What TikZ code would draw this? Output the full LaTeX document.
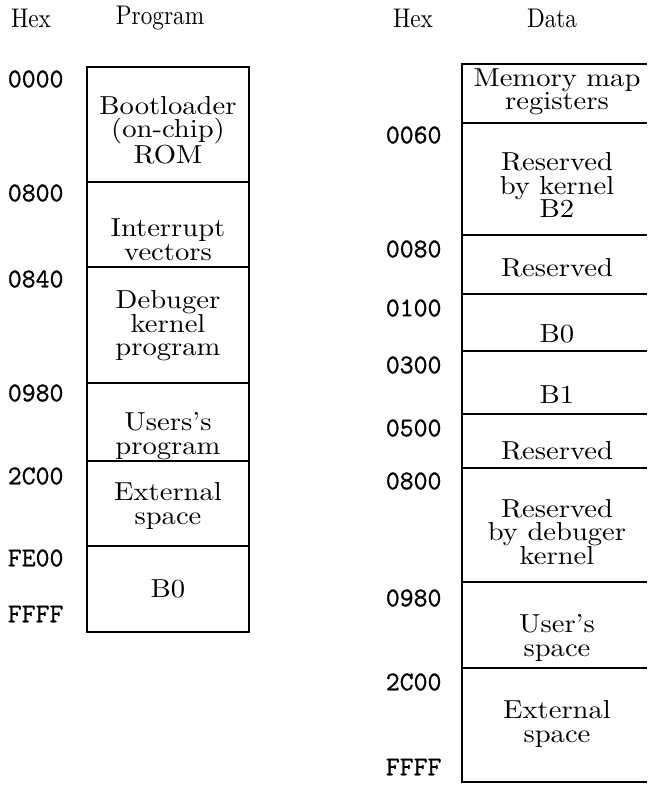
\documentclass[tikz,border=0pt]{standalone}
\usepackage{fontspec}
\setmainfont{lmroman10-regular}[Extension=.otf,FakeStretch=1.1]
\newfontfamily\headfont{lmroman10-regular}[Extension=.otf,FakeStretch=0.86]
\newfontfamily\addrfont{Latin Modern Mono}[FakeBold=1]
\usepackage{tikz}
\usetikzlibrary{positioning}

\tikzset{
  head/.style={font=\headfont\fontsize{27}{27}\selectfont},
  addr/.style={anchor=east,font=\addrfont\fontsize{27}{27}\selectfont},
  area/.style={align=center,font=\fontsize{26}{23.5}\selectfont},
  mapline/.style={line width=1.3pt},
}

\begin{document}
\begin{tikzpicture}[x=1pt,y=-1pt]
  \useasboundingbox (0,0) rectangle (647,786);

  % Programmspeicher
  \node[head] (hexp) at (31,18) {Hex};
  \node[head] (progtitle) at (160,18) {Program};
  \draw[mapline] (87,67) rectangle (249,632);
  \foreach \y in {182,267,383,461,546}
    \draw[mapline] (87,\y) -- (249,\y);

  \node[addr] (p0000) at (67,79) {0000};
  \node[addr] (p0800) at (67,193) {0800};
  \node[addr] (p0840) at (67,279) {0840};
  \node[addr] (p0980) at (67,393) {0980};
  \node[addr] (p2c00) at (67,476) {2C00};
  \node[addr] (pfe00) at (67,558) {FE00};
  \node[addr] (pffff) at (67,614) {FFFF};

  \node[area] (boot) at (168,130) {Bootloader\\(on-chip)\\ROM};
  \node[area] (vect) at (168,240) {Interrupt\\vectors};
  \node[area] (dbgprog) at (168,326) {Debuger\\kernel\\program};
  \node[area] (userprog) at (168,436) {Users's\\program};
  \node[area] (extprog) at (168,506) {External\\space};
  \node[area] (bzerop) at (168,589) {B0};

  % Datenspeicher
  \node[head] (hexd) at (413,18) {Hex};
  \node[head] (datatitle) at (552,18) {Data};
  \draw[mapline] (647,64) -- (462,64) -- (462,782) -- (647,782);
  \foreach \y in {123,235,294,351,414,468,582,668}
    \draw[mapline] (462,\y) -- (647,\y);

  \node[addr] (d0060) at (445,135) {0060};
  \node[addr] (d0080) at (445,249) {0080};
  \node[addr] (d0100) at (445,308) {0100};
  \node[addr] (d0300) at (445,365) {0300};
  \node[addr] (d0500) at (445,428) {0500};
  \node[addr] (d0800) at (445,481) {0800};
  \node[addr] (d0980) at (445,598) {0980};
  \node[addr] (d2c00) at (445,682) {2C00};
  \node[addr] (dffff) at (445,767) {FFFF};

  \node[area] (mmreg) at (557,92) {Memory map\\registers};
  \node[area] (rsvkern) at (557,185) {Reserved\\by kernel\\B2};
  \node[area] (rsva) at (557,268) {Reserved};
  \node[area] (bzerod) at (557,334) {B0};
  \node[area] (bone) at (557,395) {B1};
  \node[area] (rsvb) at (557,451) {Reserved};
  \node[area] (rsvdbg) at (557,532) {Reserved\\by debuger\\kernel};
  \node[area] (userspace) at (557,638) {User's\\space};
  \node[area] (extdata) at (557,724) {External\\space};
\end{tikzpicture}
\end{document}
